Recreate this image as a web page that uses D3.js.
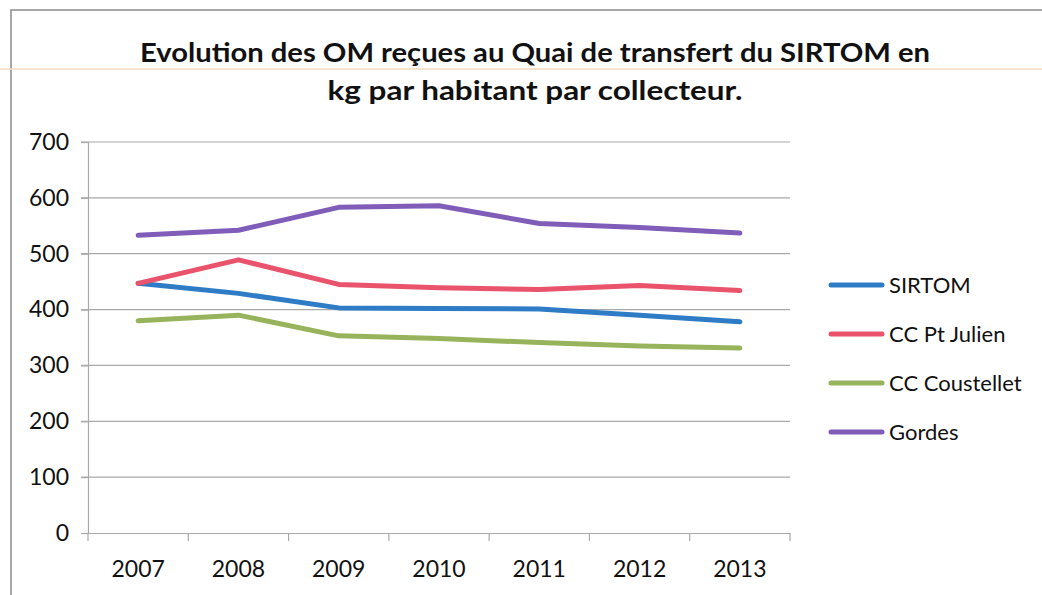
<!DOCTYPE html>
<html><head><meta charset="utf-8">
<script src="https://cdn.jsdelivr.net/npm/d3@7"></script>
<style>
html,body{margin:0;padding:0;background:#fff;}
svg{display:block;}
text{font-family:Lato,"Open Sans",sans-serif;fill:#111;}
</style></head>
<body>
<svg id="chart" width="1042" height="595"></svg>
<script>
const years = ["2007","2008","2009","2010","2011","2012","2013"];
const seriesNames = ["SIRTOM","CC Pt Julien","CC Coustellet","Gordes"];
const sirtom     = [447, 429, 403, 402, 401, 390, 378];
const ccPtJulien = [447, 489, 445, 439, 436, 443, 434];
const ccCoustellet = [380, 390, 353, 348, 341, 335, 331];
const gordes     = [533, 542, 583, 586, 554, 547, 537];
const yTicks = [0,100,200,300,400,500,600,700];
const titleLines = ["Evolution des OM reçues au Quai de transfert du SIRTOM en","kg par habitant par collecteur."];
const colors = ["#2f7cc6","#e9536b","#97b35c","#7f5db9"];

const seriesValues = [sirtom, ccPtJulien, ccCoustellet, gordes];
const svg = d3.select("#chart");

// frame
svg.append("path").attr("d","M11,595 L11,10 L1042,10").attr("fill","none").attr("stroke","#8a8a8a").attr("stroke-width",1.5);
svg.append("line").attr("x1",0).attr("x2",1042).attr("y1",69).attr("y2",69).attr("stroke","#f3dcb8").attr("stroke-width",1.5);

const L=88, R=790, T=142, B=533;
const x = d3.scaleBand().domain(years).range([L,R]);
const y = d3.scaleLinear().domain([0,700]).range([B,T]);

// gridlines
svg.append("g").selectAll("line").data(yTicks.filter(d=>d>0)).join("line")
  .attr("x1",L-7).attr("x2",R).attr("y1",d=>y(d)).attr("y2",d=>y(d))
  .attr("stroke","#a9a9a9").attr("stroke-width",1.2);

// y axis
const yAxis = svg.append("g").attr("transform",`translate(${L},0)`)
  .call(d3.axisLeft(y).tickValues(yTicks).tickSize(7).tickPadding(12));
yAxis.select(".domain").attr("stroke","#a9a9a9").attr("stroke-width",1.2);
yAxis.selectAll(".tick line").attr("stroke","#a9a9a9").attr("stroke-width",1.2);
yAxis.selectAll("text").attr("font-size",23).attr("font-family","Lato").attr("fill","#111");

// x axis
const xAxis = svg.append("g").attr("transform",`translate(0,${B})`)
  .call(d3.axisBottom(x).tickSize(0).tickPadding(28));
xAxis.select(".domain").attr("stroke","#a9a9a9").attr("stroke-width",1.2);
xAxis.selectAll("text").attr("font-size",23).attr("font-family","Lato").attr("fill","#111");
// category boundary ticks
const bounds = years.map(d=>x(d)).concat([R]);
svg.append("g").selectAll("line").data(bounds).join("line")
  .attr("x1",d=>d).attr("x2",d=>d).attr("y1",B).attr("y2",B+8)
  .attr("stroke","#a9a9a9").attr("stroke-width",1.2);

// lines
const line = d3.line().x((d,i)=>x(years[i])+x.bandwidth()/2).y(d=>y(d));
svg.append("g").selectAll("path").data(seriesValues).join("path")
  .attr("d",d=>line(d)).attr("fill","none")
  .attr("stroke",(d,i)=>colors[i]).attr("stroke-width",5)
  .attr("stroke-linejoin","round").attr("stroke-linecap","round");

// legend
const lg = svg.append("g");
const legY = d3.scalePoint().domain(seriesNames).range([285,432]);
seriesNames.forEach((n,i)=>{
  lg.append("line").attr("x1",831).attr("x2",882).attr("y1",legY(n)).attr("y2",legY(n))
    .attr("stroke",colors[i]).attr("stroke-width",5).attr("stroke-linecap","round");
  lg.append("text").attr("x",889).attr("y",legY(n)).attr("dy","0.36em")
    .attr("font-size",22).text(n);
});

// title
const title = svg.append("g");
const tBase = [62,100], tLen=[790,415];
titleLines.forEach((t,i)=>{
  title.append("text").attr("x",535).attr("y",tBase[i]).attr("text-anchor","middle")
    .attr("font-weight","bold").attr("font-size",27)
    .attr("textLength",tLen[i]).attr("lengthAdjust","spacingAndGlyphs").text(t);
});
</script>
</body></html>
